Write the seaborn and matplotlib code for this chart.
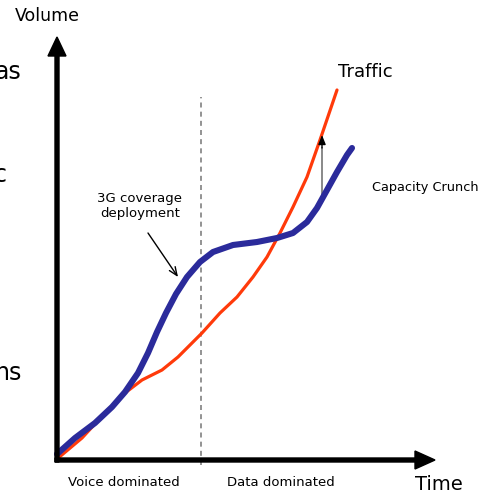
import matplotlib
matplotlib.use("Agg")
import matplotlib.pyplot as plt
import seaborn as sns
import pandas as pd

# ---- data (time / volume) ----
traffic_time = [0, 25, 48, 68, 85, 105, 121, 145, 163, 180, 196, 210, 223, 236, 250, 263, 280]
traffic_vol = [1, 22, 47, 67, 80, 90, 103, 127, 147, 163, 183, 203, 227, 253, 283, 320, 370]
capacity_time = [0, 18, 38, 55, 68, 81, 91, 100, 109, 119, 130, 143, 156, 176, 200, 220,
                 236, 250, 260, 270, 280, 290, 295]
capacity_vol = [6, 22, 37, 53, 68, 87, 107, 128, 147, 166, 183, 198, 208, 215, 218, 222,
                227, 238, 252, 270, 288, 305, 312]
split_time = 144

sns.set_style("white")
plt.rcParams['font.family'] = ['DejaVu Sans']
plt.rcParams['text.color'] = 'black'

fig = plt.figure(figsize=(4.85, 4.97), dpi=100)
ax = fig.add_axes([0, 0, 1, 1])
ax.set_xlim(-57, 428)
ax.set_ylim(-37, 460)
ax.axis("off")

df_t = pd.DataFrame({"time": traffic_time, "volume": traffic_vol})
df_c = pd.DataFrame({"time": capacity_time, "volume": capacity_vol})

# dashed separator
ax.plot([split_time, split_time], [-5, 363], color="#808080", lw=1.2,
        linestyle=(0, (3, 2.5)), zorder=1)

sns.lineplot(data=df_t, x="time", y="volume", ax=ax, color="#ff3a0a",
             lw=2.3, estimator=None, sort=False, zorder=3,
             solid_capstyle="round", solid_joinstyle="round")
sns.lineplot(data=df_c, x="time", y="volume", ax=ax, color="#2b2b9b",
             lw=4.4, estimator=None, sort=False, zorder=4,
             solid_capstyle="round", solid_joinstyle="round")

# axes arrows
ax.arrow(0, -2, 0, 425, width=4, head_width=18, head_length=19,
         length_includes_head=True, color="black", zorder=5)
ax.arrow(-2, 0, 380, 0, width=4, head_width=18, head_length=20,
         length_includes_head=True, color="black", zorder=5)

# capacity crunch arrow
ax.annotate("", xy=(265, 315), xytext=(265, 258),
            arrowprops=dict(arrowstyle="-", color="#808080", lw=1.3))
ax.annotate("", xy=(265, 325), xytext=(265, 312),
            arrowprops=dict(arrowstyle="-|>,head_length=0.55,head_width=0.22",
                            color="black", lw=1.0, shrinkA=0, shrinkB=0))

# 3G arrow
ax.annotate("", xy=(121, 183), xytext=(91, 227),
            arrowprops=dict(arrowstyle="->,head_length=0.6,head_width=0.25",
                            color="black", lw=1.0, shrinkA=0, shrinkB=0))

# texts
ax.text(-10, 444, "Volume", fontsize=12.5, ha="center", va="center")
ax.text(382, -25, "Time", fontsize=14, ha="center", va="center")
ax.text(308, 388, "Traffic", fontsize=13, ha="center", va="center")
ax.text(368, 273, "Capacity Crunch", fontsize=9.3, ha="center", va="center")
ax.text(83, 254, "3G coverage\ndeployment", fontsize=9.5, ha="center",
        va="center", linespacing=1.2)
ax.text(67, -22, "Voice dominated", fontsize=9.5, ha="center", va="center")
ax.text(224, -22, "Data dominated", fontsize=9.5, ha="center", va="center")

# fragments of slide text cut at the left edge (as in the reference)
ax.text(-36, 388, "as", fontsize=17, ha="right", va="center")
ax.text(-50, 285, "c", fontsize=17, ha="right", va="center")
ax.text(-35, 87, "ns", fontsize=17, ha="right", va="center")

fig.savefig("out.png", dpi=100)
